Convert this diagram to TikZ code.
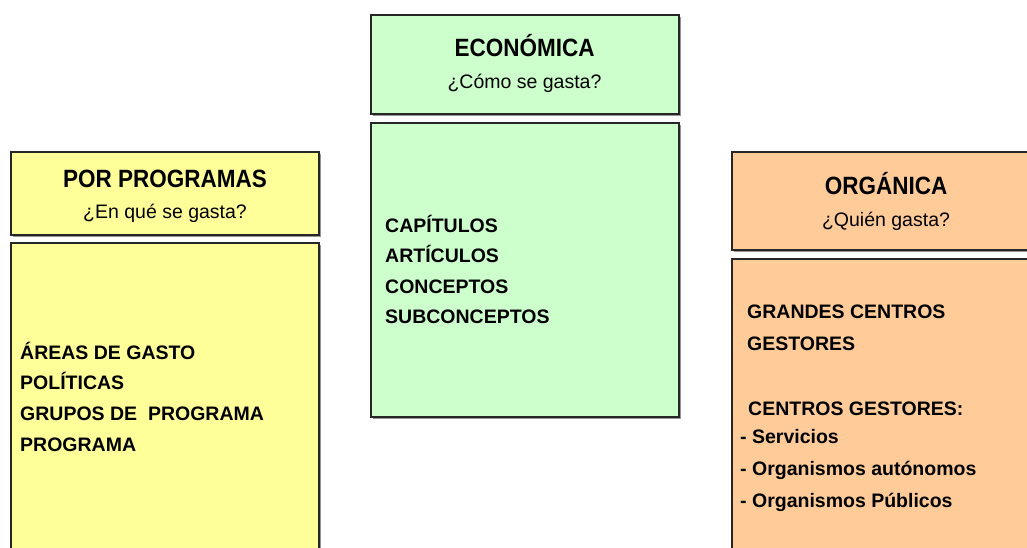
\documentclass[tikz,border=0pt]{standalone}
\usepackage{fontspec}
\setmainfont{Liberation Sans}
\newfontfamily\titlefont[FakeStretch=0.9]{Liberation Sans}
\usetikzlibrary{shadows}

\definecolor{amarillo}{HTML}{FFFF99}
\definecolor{verde}{HTML}{CCFFCC}
\definecolor{naranja}{HTML}{FFCC99}

\begin{document}
\begin{tikzpicture}[x=1pt, y=-1pt,
    caja/.style={draw=black!85, line width=1.8pt, rectangle, inner sep=0pt, anchor=north west,
        drop shadow={shadow xshift=1.8pt, shadow yshift=-1.8pt, fill=black!60, opacity=0.7}},
    titulo/.style={font=\titlefont\bfseries\fontsize{25}{28}\selectfont, anchor=base, inner sep=0pt},
    pregunta/.style={font=\fontsize{19.5}{22}\selectfont, anchor=base, inner sep=0pt},
    lista/.style={font=\bfseries\fontsize{19.5}{22}\selectfont, anchor=base west, inner sep=0pt}]
    \useasboundingbox (0,0) rectangle (1027,548);

    % por programas
    \node[caja, fill=amarillo, minimum width=308pt, minimum height=83pt] (proghead) at (10,151) {};
    \node[caja, fill=amarillo, minimum width=308pt, minimum height=320pt] (progbody) at (10,242) {};
    \node[titulo] (progtit) at (165,188) {POR PROGRAMAS};
    \node[pregunta] (progq) at (165,218) {¿En qué se gasta?};
    \foreach \n/\y/\t in {1/359/ÁREAS DE GASTO, 2/389/POLÍTICAS, 3/420/GRUPOS DE\ \ PROGRAMA, 4/451/PROGRAMA}
        \node[lista] (prog\n) at (20,\y) {\t};

    % economica
    \node[caja, fill=verde, minimum width=308pt, minimum height=99pt] (econhead) at (370,14) {};
    \node[caja, fill=verde, minimum width=308pt, minimum height=294pt] (econbody) at (370,122) {};
    \node[titulo] (econtit) at (524.5,57) {ECONÓMICA};
    \node[pregunta] (econq) at (524.5,89) {¿Cómo se gasta?};
    \foreach \n/\y/\t in {1/232/CAPÍTULOS, 2/262/ARTÍCULOS, 3/293/CONCEPTOS, 4/323/SUBCONCEPTOS}
        \node[lista] (econ\n) at (385,\y) {\t};

    % organica
    \node[caja, fill=naranja, minimum width=320pt, minimum height=98pt] (orghead) at (731,151) {};
    \node[caja, fill=naranja, minimum width=320pt, minimum height=310pt] (orgbody) at (731,258) {};
    \node[titulo] (orgtit) at (886,194) {ORGÁNICA};
    \node[pregunta] (orgq) at (886,226) {¿Quién gasta?};
    \foreach \n/\x/\y/\t in {1/747/318/GRANDES CENTROS, 2/747/350/GESTORES, 3/748/415/CENTROS GESTORES:,
        4/740/443/- Servicios, 5/740/475/- Organismos autónomos, 6/740/507/- Organismos Públicos}
        \node[lista] (org\n) at (\x,\y) {\t};
\end{tikzpicture}
\end{document}
